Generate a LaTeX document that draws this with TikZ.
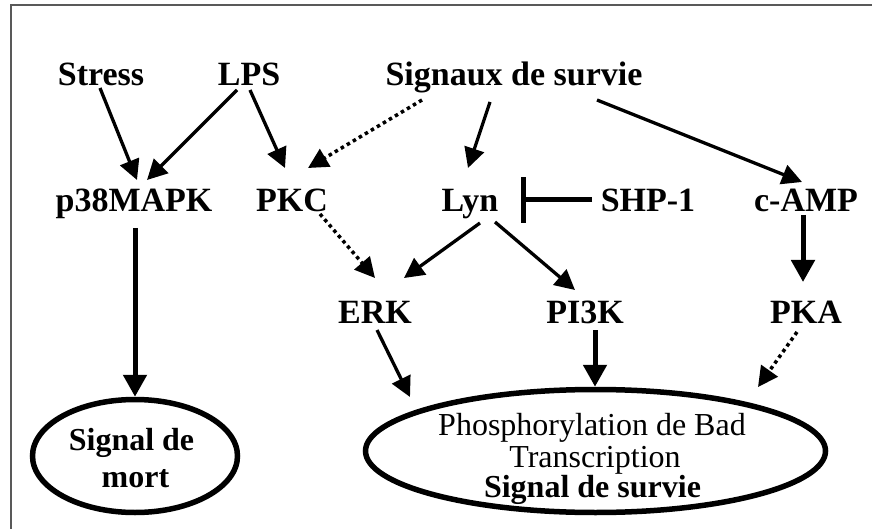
\documentclass[tikz,border=0pt]{standalone}
\usepackage{fontspec}
\setmainfont{Liberation Serif}
\usetikzlibrary{arrows.meta,shapes.geometric}

\begin{document}
\begin{tikzpicture}[x=1pt,y=-1pt,
  lbl/.style={anchor=base,inner sep=0pt,font=\fontsize{34}{36}\selectfont\bfseries},
  ovaltxt/.style={anchor=base,inner sep=0pt,font=\fontsize{32}{31}\selectfont},
  arr/.style={line width=3.3pt,-{Triangle[length=20pt,width=20pt]}},
  varr/.style={line width=5pt,-{Triangle[length=22pt,width=23pt]}},
  dotarr/.style={line width=3.5pt,dash pattern=on 3.5pt off 3.5pt,
                 -{Triangle[length=20pt,width=20pt]}},
  inhib/.style={line width=5pt,-{Bar[width=46pt]}},
  oval/.style={ellipse,draw,line width=5.5pt,inner sep=0pt},
]
\useasboundingbox (0,0) rectangle (872,529);
% frame
\draw[line width=2pt,color=black!65] (11,529) -- (11,5) -- (872,5);

% signals
\node[lbl] (stress) at (101,86) {Stress};
\node[lbl] (lps)    at (249,86) {LPS};
\node[lbl] (sig)    at (514,86) {Signaux de survie};

% kinases
\node[lbl] (p38)  at (134,212) {p38MAPK};
\node[lbl] (pkc)  at (292,212) {PKC};
\node[lbl] (lyn)  at (470,212) {Lyn};
\node[lbl] (shp)  at (648,212) {SHP-1};
\node[lbl] (camp) at (806,212) {c-AMP};
\node[lbl] (erk)  at (375,323) {ERK};
\node[lbl] (pi3k) at (585,323) {PI3K};
\node[lbl] (pka)  at (806,323) {PKA};

% outcomes
\node[oval,minimum width=205pt,minimum height=113pt] (mort) at (135,456) {};
\node[lbl,font=\fontsize{32}{34}\selectfont\bfseries] (mort1) at (131.5,450) {Signal de};
\node[lbl,font=\fontsize{32}{34}\selectfont\bfseries] (mort2) at (135.5,487) {mort};

\node[oval,minimum width=460pt,minimum height=123pt] (survie) at (595.5,451) {};
\node[ovaltxt] (phos)  at (592,435) {Phosphorylation de Bad};
\node[ovaltxt] (trans) at (595,467) {Transcription};
\node[ovaltxt,font=\fontsize{32}{31}\selectfont\bfseries] (surv) at (592.5,497) {Signal de survie};

% activations
\draw[arr] ([shift={(-1,2)}]stress.base) -- ([shift={(3,-32)}]p38.base);
\draw[arr] ([shift={(-12,4)}]lps.base) -- ([shift={(13,-32)}]p38.base);
\draw[arr] ([shift={(1,4)}]lps.base) -- ([shift={(-7,-44)}]pkc.base);
\draw[dotarr] ([shift={(-92,14)}]sig.base) -- ([shift={(16,-44)}]pkc.base);
\draw[arr] ([shift={(-24,16)}]sig.base) -- ([shift={(-2,-44)}]lyn.base);
\draw[arr] ([shift={(83,14)}]sig.base) -- ([shift={(-4,-30)}]camp.base);

% inhibition of Lyn by SHP-1
\draw[inhib] ([shift={(-56,-12)}]shp.base) -- ([shift={(51,-12)}]lyn.base);

\draw[dotarr] ([shift={(28,2)}]pkc.base) -- ([shift={(0,-45)}]erk.base);
\draw[arr] ([shift={(10,11)}]lyn.base) -- ([shift={(29,-45)}]erk.base);
\draw[arr] ([shift={(25,10)}]lyn.base) -- ([shift={(-10,-33)}]pi3k.base);
\draw[varr] ([shift={(-3,3)}]camp.base) -- ([shift={(-3,-41)}]pka.base);

% towards the outcomes
\draw[varr] ([shift={(1,16)}]p38.base) -- (mort.north);
\draw[arr] ([shift={(2,7)}]erk.base) -- ([shift={(-185.5,-54)}]survie.center);
\draw[varr] ([shift={(10,7)}]pi3k.base) -- ([xshift=-0.5pt]survie.north);
\draw[dotarr] ([shift={(-9,9)}]pka.base) -- ([shift={(162.5,-64)}]survie.center);
\end{tikzpicture}
\end{document}
